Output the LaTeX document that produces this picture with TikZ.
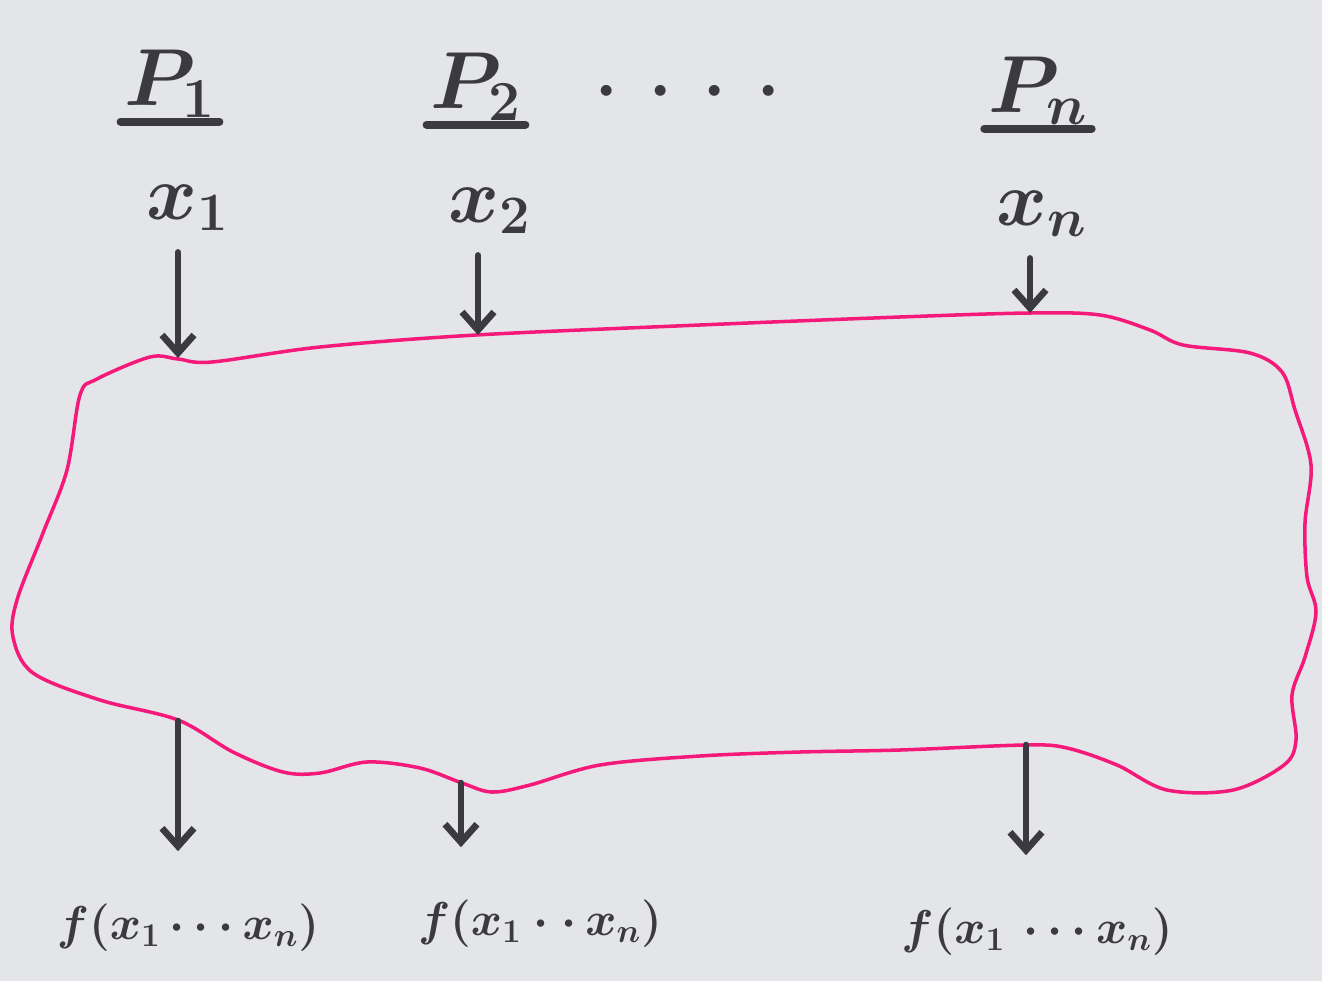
\RequirePackage{fix-cm}
\documentclass[tikz,border=0pt]{standalone}
\usepackage{amsmath,amssymb}
\usepackage{tikz}
\usetikzlibrary{arrows.meta,positioning,calc}
\definecolor{board}{HTML}{E4E5E9}
\definecolor{marker}{HTML}{3A3A40}
\definecolor{penpink}{HTML}{F51A7A}
\tikzset{
  >={Straight Barb[length=3.6mm,width=6.4mm]},
  % tavla
  party/.style={text=marker,inner sep=2pt,font=\fontsize{46}{50}\selectfont\boldmath},
  inp/.style={text=marker,inner xsep=4pt,inner ysep=12pt,font=\fontsize{44}{48}\selectfont\boldmath},
  outp/.style={text=marker,inner xsep=2pt,inner ysep=30pt,font=\fontsize{27}{32}\selectfont\boldmath},
  uline/.style={draw=marker,line width=4.5pt,line cap=round},
  flow/.style={->,draw=marker,line width=3.8pt,line cap=round},
  blob/.style={draw=penpink,line width=2pt},
}

\begin{document}
\begin{tikzpicture}[x=0.02cm,y=-0.02cm]
  \fill[board] (0,0) rectangle (1322,981);
  \useasboundingbox (0,0) rectangle (1322,981);
  % parter
  \node[party] (p1) at (170,84) {$P_1$};
  \node[party] (p2) at (476,87) {$P_2$};
  \node[party] (pn) at (1038,91) {$P_n$};
  \node[text=marker,font=\fontsize{40}{44}\selectfont\boldmath] (dots) at (688,92)
    {${\cdot}\hspace{18pt}{\cdot}\hspace{18pt}{\cdot}\hspace{18pt}{\cdot}$};
  \draw[uline] (p1.south west) -- (p1.south east);
  \draw[uline] (p2.south west) -- (p2.south east);
  \draw[uline] (pn.south west) -- (pn.south east);
  \node[inp] (x1) at (188,208) {$x_1$};
  \node[inp] (x2) at (490,211) {$x_2$};
  \node[inp] (xn) at (1042,214) {$x_n$};
  % funktionen
  \draw[blob] plot[smooth cycle,tension=0.55] coordinates {
    (97,379) (150,357) (178,359) (212,362) (320,347) (476,335) (700,325)
    (900,317) (1030,313) (1100,315) (1150,330) (1183,345) (1250,353)
    (1282,372) (1295,410) (1311,465) (1305,523) (1307,577) (1316,612)
    (1305,657) (1292,695) (1296,740) (1284,765) (1233,790) (1167,790)
    (1117,765) (1067,748) (1025,745) (900,750) (800,752) (700,756)
    (600,765) (530,785) (492,792) (462,783) (420,768) (367,762)
    (320,773) (283,772) (233,752) (178,720) (100,700) (33,673)
    (13,637) (17,600) (43,533) (67,470) (80,395)};
  \coordinate (t1) at (178,358);
  \coordinate (t2) at (478,335);
  \coordinate (tn) at (1030,313);
  \coordinate (b1) at (178,721);
  \coordinate (b2) at (461,783);
  \coordinate (bn) at (1026,745);
  \node[outp] (f1) at (188,928) {$f(x_1\cdots x_n)$};
  \node[outp] (f2) at (540,924) {$f(x_1\cdot\cdot\, x_n)$};
  \node[outp] (fn) at (1037,932) {$f(x_1\,\cdots x_n)$};
  \draw[flow] (t1 |- x1.south) -- (t1);
  \draw[flow] (t2 |- x2.south) -- (t2);
  \draw[flow] (tn |- xn.south) -- (tn);
  \draw[flow] (b1) -- (b1 |- f1.north);
  \draw[flow] (b2) -- (b2 |- f2.north);
  \draw[flow] (bn) -- (bn |- fn.north);
\end{tikzpicture}
\end{document}
